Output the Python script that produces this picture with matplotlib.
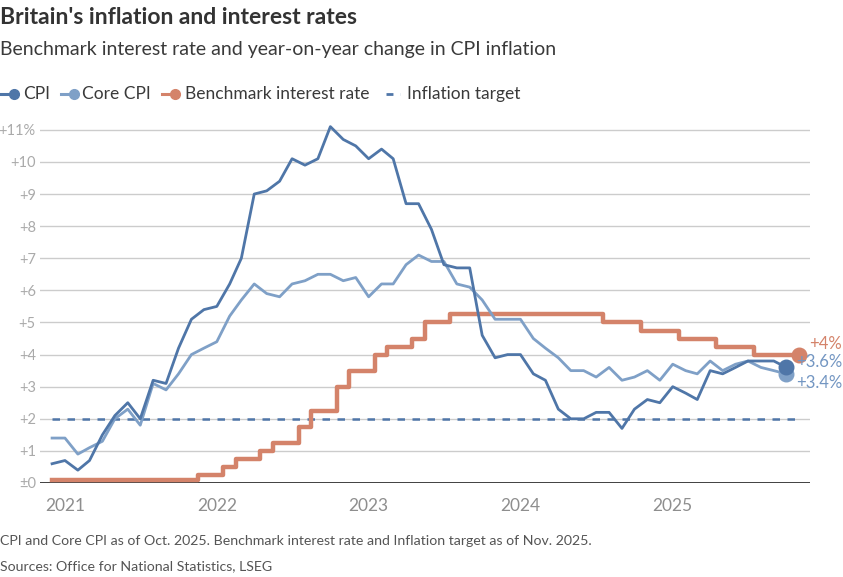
import matplotlib
matplotlib.use('Agg')
import matplotlib.pyplot as plt
import pandas as pd
from matplotlib.lines import Line2D

plt.rcParams['font.family'] = ['Lato', 'DejaVu Sans']

# ── data ──────────────────────────────────────────────────────────────────────
# monthly, Dec 2020 .. Oct 2025
cpi = [0.6,
       0.7, 0.4, 0.7, 1.5, 2.1, 2.5, 2.0, 3.2, 3.1, 4.2, 5.1, 5.4,
       5.5, 6.2, 7.0, 9.0, 9.1, 9.4, 10.1, 9.9, 10.1, 11.1, 10.7, 10.5,
       10.1, 10.4, 10.1, 8.7, 8.7, 7.9, 6.8, 6.7, 6.7, 4.6, 3.9, 4.0,
       4.0, 3.4, 3.2, 2.3, 2.0, 2.0, 2.2, 2.2, 1.7, 2.3, 2.6, 2.5,
       3.0, 2.8, 2.6, 3.5, 3.4, 3.6, 3.8, 3.8, 3.8, 3.6]
core_cpi = [1.4,
            1.4, 0.9, 1.1, 1.3, 2.0, 2.3, 1.8, 3.1, 2.9, 3.4, 4.0, 4.2,
            4.4, 5.2, 5.7, 6.2, 5.9, 5.8, 6.2, 6.3, 6.5, 6.5, 6.3, 6.4,
            5.8, 6.2, 6.2, 6.8, 7.1, 6.9, 6.9, 6.2, 6.1, 5.7, 5.1, 5.1,
            5.1, 4.5, 4.2, 3.9, 3.5, 3.5, 3.3, 3.6, 3.2, 3.3, 3.5, 3.2,
            3.7, 3.5, 3.4, 3.8, 3.5, 3.7, 3.8, 3.6, 3.5, 3.4]
# monthly, Dec 2020 .. Nov 2025
bank_rate = [0.1,
             0.1, 0.1, 0.1, 0.1, 0.1, 0.1, 0.1, 0.1, 0.1, 0.1, 0.1, 0.25,
             0.25, 0.5, 0.75, 0.75, 1.0, 1.25, 1.25, 1.75, 2.25, 2.25, 3.0, 3.5,
             3.5, 4.0, 4.25, 4.25, 4.5, 5.0, 5.0, 5.25, 5.25, 5.25, 5.25, 5.25,
             5.25, 5.25, 5.25, 5.25, 5.25, 5.25, 5.25, 5.0, 5.0, 5.0, 4.75, 4.75,
             4.75, 4.5, 4.5, 4.5, 4.25, 4.25, 4.25, 4.0, 4.0, 4.0, 4.0]
target = 2.0

cpi_dates = pd.date_range('2020-12-01', periods=len(cpi), freq='MS')
rate_dates = pd.date_range('2020-12-01', periods=len(bank_rate), freq='MS')
years = [2021, 2022, 2023, 2024, 2025]
yticks = list(range(0, 12))
ytick_labels = ['±0'] + [f'+{v}' for v in range(1, 11)] + ['+11%']

C_CPI = '#4f76a8'
C_CORE = '#7fa0c7'
C_RATE = '#d4836a'
C_GRID = '#cccccc'
C_TEXT = '#3a3a3a'

# ── figure ────────────────────────────────────────────────────────────────────
W, H = 843, 577
fig = plt.figure(figsize=(W / 100, H / 100), dpi=100)
fig.patch.set_facecolor('white')

def px(x, y):
    return x / W, 1 - y / H

ax_l, ax_r, ax_t, ax_b = 40, 810, 117, 483
ax = fig.add_axes([ax_l / W, 1 - ax_b / H, (ax_r - ax_l) / W, (ax_b - ax_t) / H])
ax.set_ylim(0, 11.4)
ax.set_xlim(pd.Timestamp('2020-11-02'), pd.Timestamp('2025-11-27'))

for s in ax.spines.values():
    s.set_visible(False)
ax.set_yticks(yticks)
ax.set_yticklabels(ytick_labels)
ax.yaxis.grid(True, color=C_GRID, lw=1)
ax.set_axisbelow(True)
ax.tick_params(axis='y', length=0, pad=3, labelsize=10.5, labelcolor='#aaaaaa')
ax.set_xticks([pd.Timestamp(f'{y}-01-01') for y in years])
ax.set_xticklabels([str(y) for y in years])
ax.tick_params(axis='x', length=0, pad=11, labelsize=12.5, labelcolor='#8e8e8e')
ax.axhline(0, color='#333333', lw=1.3, zorder=2)

# ── series ────────────────────────────────────────────────────────────────────
ax.plot([rate_dates[0], rate_dates[-1]], [target, target],
        color=C_CPI, lw=1.8, ls=(0, (3, 3)), zorder=3)
ax.step(rate_dates, bank_rate, where='mid', color=C_RATE, lw=3.2,
        zorder=4, clip_on=False)
ax.plot(cpi_dates, core_cpi, color=C_CORE, lw=2.0, zorder=5, clip_on=False)
ax.plot(cpi_dates, cpi, color=C_CPI, lw=2.0, zorder=6, clip_on=False)

ax.scatter([cpi_dates[-1]], [core_cpi[-1]], s=110, color=C_CORE, zorder=7, clip_on=False)
ax.scatter([cpi_dates[-1]], [cpi[-1]], s=110, color=C_CPI, zorder=8, clip_on=False)
ax.scatter([rate_dates[-1]], [bank_rate[-1]], s=110, color=C_RATE, zorder=8, clip_on=False)

fig.text(*px(842, 344), f'+{bank_rate[-1]:g}%', color=C_RATE, fontsize=12,
         ha='right', va='center')
fig.text(*px(842, 362), f'+{cpi[-1]:g}%', color='#7396c2', fontsize=12,
         ha='right', va='center')
fig.text(*px(842, 383), f'+{core_cpi[-1]:g}%', color='#7396c2', fontsize=12,
         ha='right', va='center')

# ── titles ────────────────────────────────────────────────────────────────────
fig.text(*px(0, 18), "Britain's inflation and interest rates", fontsize=16.5,
         fontweight='bold', color='#333333', ha='left', va='center')
fig.text(*px(0, 50), 'Benchmark interest rate and year-on-year change in CPI inflation',
         fontsize=14, color=C_TEXT, ha='left', va='center')

# ── legend ────────────────────────────────────────────────────────────────────
LY = 94
def dot_handle(x0, color):
    fig.add_artist(Line2D([x0 / W, (x0 + 12) / W], [1 - LY / H] * 2,
                          color=color, lw=2.2))
    fig.add_artist(Line2D([(x0 + 13) / W], [1 - LY / H], marker='o',
                          ms=7, color=color, lw=0))

dot_handle(1, C_CPI)
fig.text(*px(23, LY), 'CPI', fontsize=12.5, color=C_TEXT, va='center')
dot_handle(61, C_CORE)
fig.text(*px(82, LY), 'Core CPI', fontsize=12.5, color=C_TEXT, va='center')
dot_handle(162, C_RATE)
fig.text(*px(185, LY), 'Benchmark interest rate', fontsize=12.5, color=C_TEXT, va='center')
fig.add_artist(Line2D([386 / W, 400 / W], [1 - LY / H] * 2, color=C_CPI,
                      lw=2, ls=(0, (2.5, 2.5))))
fig.text(*px(407, LY), 'Inflation target', fontsize=12.5, color=C_TEXT, va='center')

# ── footer ────────────────────────────────────────────────────────────────────
fig.text(*px(0, 541), 'CPI and Core CPI as of Oct. 2025. Benchmark interest rate '
         'and Inflation target as of Nov. 2025.', fontsize=10.2, color='#555555',
         va='center')
fig.text(*px(0, 566), 'Sources: Office for National Statistics, LSEG', fontsize=10.2,
         color='#555555', va='center')

fig.savefig('out.png', dpi=100, facecolor='white')
